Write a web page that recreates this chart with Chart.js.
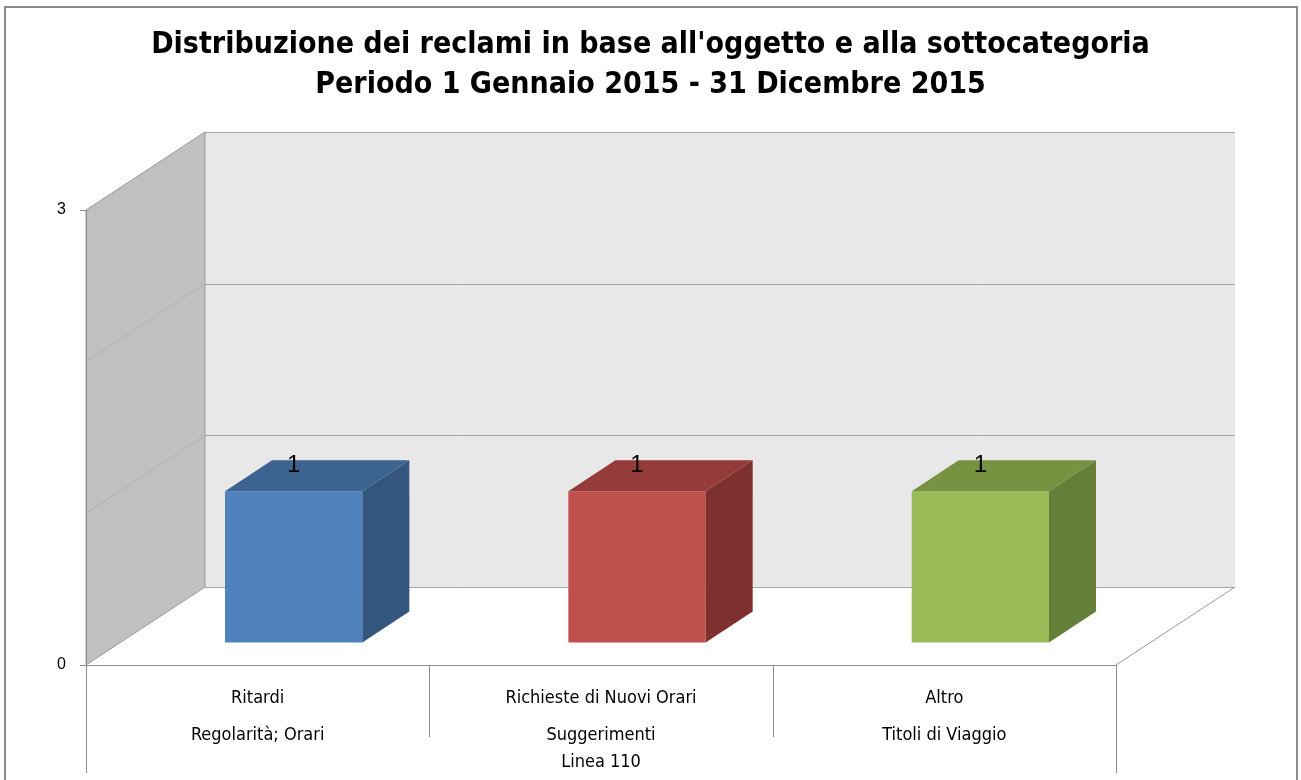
<!DOCTYPE html>
<html>
<head>
<meta charset="utf-8">
<script src="https://cdn.jsdelivr.net/npm/chart.js@4/dist/chart.umd.min.js"></script>
<style>
  body { margin: 0; background: #fff; }
</style>
</head>
<body>
<canvas id="reclamiChart" width="1301" height="780"></canvas>
<script>
// dati
const categorie = [
    ['Ritardi', 'Regolarità; Orari'],
    ['Richieste di Nuovi Orari', 'Suggerimenti'],
    ['Altro', 'Titoli di Viaggio']
];
const gruppo = 'Linea 110';
const reclami = [1, 1, 1];
const tickEtichette = [0, 3];
const yMax = 3;

const titolo = [
    "Distribuzione dei reclami in base all'oggetto e alla sottocategoria",
    'Periodo 1 Gennaio 2015 - 31 Dicembre 2015'
];

// colori: fronte, sopra, lato
const coloriFronte = ['#4f81bd', '#c0504d', '#9bbb59'];
const coloriSopra = ['#3d6390', '#953c3a', '#779342'];
const coloriLato = ['#34557d', '#7e302e', '#657f39'];

const narrow = "'Liberation Sans Narrow', 'DejaVu Sans Condensed', sans-serif";
const sans = "'Liberation Sans', Arial, sans-serif";

// profondità della scena e delle barre
const scena = { x: 119, y: -78 };
const barraPos = { x: 36, y: -22 };
const barraProf = { x: 47, y: -31 };

const excel3d = {
    id: 'excel3d',
    beforeDraw(chart) {
        const ctx = chart.ctx;
        const { left, right } = chart.chartArea;
        const ys = chart.scales.y;
        const y0 = ys.getPixelForValue(0);
        const yT = ys.getPixelForValue(yMax);
        ctx.save();
        // cornice
        ctx.strokeStyle = '#8c8c8c';
        ctx.lineWidth = 2;
        ctx.strokeRect(5, 7, 1292, 800);
        ctx.lineWidth = 1;

        // parete di fondo
        ctx.fillStyle = '#e8e8e8';
        ctx.fillRect(left + scena.x, yT + scena.y, right - left, y0 - yT);
        ctx.strokeStyle = '#a6a6a6';
        for (let v = 0; v <= yMax; v++) {
            const y = Math.round(ys.getPixelForValue(v) + scena.y) + 0.5;
            ctx.beginPath();
            ctx.moveTo(left + scena.x, y);
            ctx.lineTo(right + scena.x, y);
            ctx.stroke();
        }

        // parete laterale
        ctx.fillStyle = '#c0c0c0';
        ctx.beginPath();
        ctx.moveTo(left, yT);
        ctx.lineTo(left + scena.x, yT + scena.y);
        ctx.lineTo(left + scena.x, y0 + scena.y);
        ctx.lineTo(left, y0);
        ctx.closePath();
        ctx.fill();
        ctx.strokeStyle = '#9a9a9a';
        ctx.stroke();
        ctx.strokeStyle = '#b3b3b3';
        for (let v = 1; v < yMax; v++) {
            const y = ys.getPixelForValue(v);
            ctx.beginPath();
            ctx.moveTo(left, y);
            ctx.lineTo(left + scena.x, y + scena.y);
            ctx.stroke();
        }

        // bordo destro del pavimento
        ctx.strokeStyle = '#9a9a9a';
        ctx.beginPath();
        ctx.moveTo(right + scena.x, y0 + scena.y);
        ctx.lineTo(right, y0);
        ctx.stroke();
        ctx.restore();
    },
    beforeDatasetsDraw(chart) {
        chart.ctx.save();
        chart.ctx.translate(barraPos.x, barraPos.y);
    },
    afterDatasetsDraw(chart) {
        const ctx = chart.ctx;
        const meta = chart.getDatasetMeta(0);
        meta.data.forEach((el, i) => {
            const w = el.width;
            const x0 = el.x - w / 2, x1 = el.x + w / 2;
            const yt = el.y, yb = el.base;
            ctx.fillStyle = coloriSopra[i];
            ctx.beginPath();
            ctx.moveTo(x0, yt);
            ctx.lineTo(x0 + barraProf.x, yt + barraProf.y);
            ctx.lineTo(x1 + barraProf.x, yt + barraProf.y);
            ctx.lineTo(x1, yt);
            ctx.closePath();
            ctx.fill();
            ctx.fillStyle = coloriLato[i];
            ctx.beginPath();
            ctx.moveTo(x1, yt);
            ctx.lineTo(x1 + barraProf.x, yt + barraProf.y);
            ctx.lineTo(x1 + barraProf.x, yb + barraProf.y);
            ctx.lineTo(x1, yb);
            ctx.closePath();
            ctx.fill();
            // etichetta valore
            ctx.fillStyle = '#000';
            ctx.font = '24px ' + sans;
            ctx.textAlign = 'center';
            ctx.textBaseline = 'middle';
            ctx.fillText(String(reclami[i]), el.x, yt - 26);
        });
        ctx.restore();
    },
    afterDraw(chart) {
        const ctx = chart.ctx;
        const xs = chart.scales.x;
        const { left, right, bottom } = chart.chartArea;
        const n = categorie.length;
        const passo = (right - left) / n;
        ctx.save();
        ctx.strokeStyle = '#8c8c8c';
        ctx.lineWidth = 1;
        for (let i = 0; i <= n; i++) {
            const x = Math.round(left + i * passo) + 0.5;
            ctx.beginPath();
            ctx.moveTo(x, bottom);
            ctx.lineTo(x, (i === 0 || i === n) ? 773 : bottom + 72);
            ctx.stroke();
        }
        ctx.fillStyle = '#000';
        ctx.font = '18px ' + narrow;
        ctx.textAlign = 'center';
        ctx.textBaseline = 'middle';
        ctx.fillText(gruppo, (xs.left + xs.right) / 2, 762);
        ctx.restore();
    }
};

new Chart(document.getElementById('reclamiChart'), {
    type: 'bar',
    data: {
        labels: categorie,
        datasets: [{
            data: reclami,
            backgroundColor: coloriFronte,
            borderWidth: 0,
            barPercentage: 0.4,
            categoryPercentage: 1
        }]
    },
    options: {
        responsive: false,
        animation: false,
        layout: { padding: 0 },
        plugins: {
            legend: { display: false },
            tooltip: { enabled: false },
            title: {
                display: true,
                text: titolo,
                color: '#000',
                font: { family: narrow, size: 30, weight: 'bold', lineHeight: '40px' },
                padding: { top: 25, bottom: 105 }
            }
        },
        scales: {
            x: {
                grid: { display: false },
                border: { display: true, color: '#8c8c8c' },
                ticks: {
                    color: '#000',
                    padding: 6.5,
                    maxRotation: 0,
                    autoSkip: false,
                    font: { family: narrow, size: 18, lineHeight: '37px' }
                },
                afterFit(s) { s.height = 115; }
            },
            y: {
                min: 0,
                max: yMax,
                grid: {
                    drawOnChartArea: false,
                    drawTicks: true,
                    tickLength: 6,
                    color: c => tickEtichette.includes(c.tick.value) ? '#8c8c8c' : 'rgba(0,0,0,0)'
                },
                border: { display: true, color: '#8c8c8c' },
                ticks: {
                    stepSize: 1,
                    padding: 14,
                    color: '#000',
                    font: { family: sans, size: 16 },
                    callback: v => tickEtichette.includes(v) ? v : ''
                },
                afterFit(s) { s.width = 86; }
            },
            destra: {
                position: 'right',
                display: true,
                grid: { display: false },
                border: { display: false },
                ticks: { display: false },
                afterFit(s) { s.width = 185; }
            }
        }
    },
    plugins: [excel3d]
});
</script>
</body>
</html>
